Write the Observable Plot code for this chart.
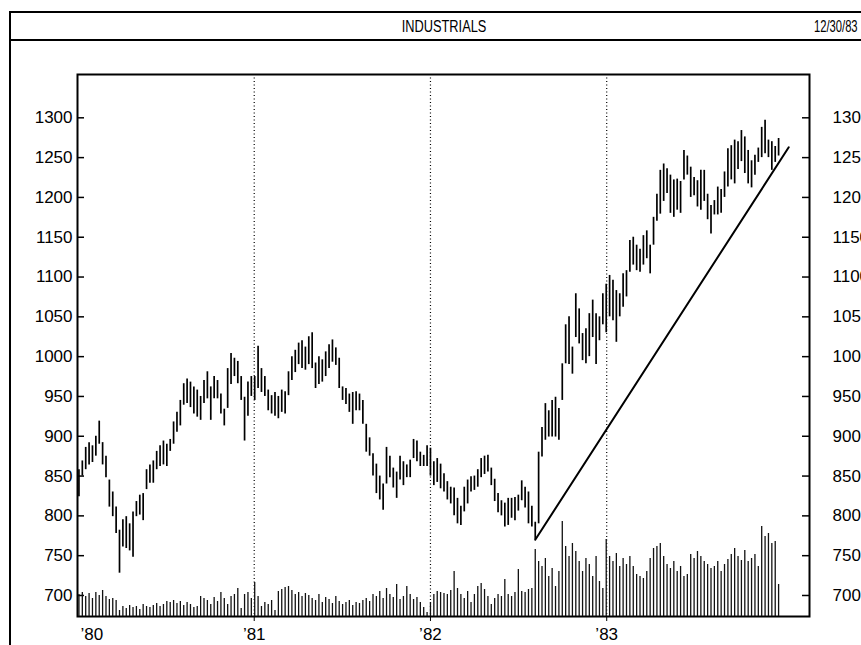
<!DOCTYPE html>
<html><head><meta charset="utf-8">
<script src="https://cdn.jsdelivr.net/npm/d3@7"></script>
<script src="https://cdn.jsdelivr.net/npm/@observablehq/plot@0.6"></script>
<style>
body{margin:0;background:#fff;}
#wrap{position:relative;width:861px;height:645px;overflow:hidden;background:#fff;font-family:"Liberation Sans",sans-serif;color:#000;}
#outer{position:absolute;left:9px;top:11px;width:900px;height:700px;border-top:2px solid #000;border-left:2px solid #000;}
#hdr{position:absolute;left:9px;top:39px;width:900px;border-top:2px solid #000;}
.hd{position:absolute;top:18px;font-size:16px;line-height:18px;white-space:nowrap;}
#title{left:444px;transform:translateX(-50%) scaleX(0.8);}
#date{left:814px;transform-origin:left center;transform:scaleX(0.7);}
.layer{position:absolute;left:0;top:0;}
</style></head>
<body><div id="wrap">
<div id="outer"></div><div id="hdr"></div>
<div class="hd" id="title">INDUSTRIALS</div>
<div class="hd" id="date">12/30/83</div>
<div class="layer" id="price"></div>
<div class="layer" id="volume"></div>
</div>
<script>
// weekly bars, first week ending 1980-01-04
const firstWeek = "1980-01-04";
const high1980 = [858,869,886,892,888,900,919,892,875,845,830,811,782,795,799,790,805,818,826,828,858,864,869,881,888,894,890,896,918,930,945,966,972,968,962,958,950,970,981,962,975,970,953,934,985,1004,998,994,975,949,968,975];
const low1980  = [824,850,858,864,867,875,890,864,848,811,799,778,728,761,759,756,748,799,801,794,833,841,841,858,862,864,862,881,890,905,913,939,941,936,928,924,920,941,947,920,947,947,928,913,935,965,975,966,945,894,925,950];
const high1981 = [975,1013,985,975,958,951,955,950,958,956,981,1000,1008,1017,1020,1012,1025,1030,992,1000,996,1006,1015,1021,1011,998,962,960,953,955,956,953,945,915,898,878,865,850,840,886,875,860,855,875,868,864,870,896,894,880,876,888];
const low1981  = [945,960,955,950,932,928,925,922,930,928,951,970,980,990,985,983,990,985,960,965,968,975,985,993,989,960,945,940,930,915,932,932,915,880,875,850,828,820,807,840,848,835,822,845,838,848,848,872,868,862,862,862];
const high1982 = [885,868,872,865,853,843,836,835,822,812,836,845,849,850,858,872,875,876,860,846,828,819,816,822,822,823,826,844,836,830,812,792,880,911,941,932,945,949,935,991,1040,1050,1012,1079,1060,1029,1035,1054,1071,1054,1050,1079];
const low1982  = [850,838,842,834,830,820,815,800,790,788,805,815,830,832,836,848,852,855,838,818,804,800,786,788,797,794,806,819,810,790,786,770,790,874,895,899,899,899,895,945,991,990,978,1024,1016,995,991,1000,1024,990,1020,1040];
const high1983 = [1091,1102,1096,1083,1079,1104,1108,1146,1150,1140,1135,1152,1158,1140,1175,1204,1234,1242,1236,1228,1222,1223,1220,1259,1252,1238,1225,1221,1234,1234,1204,1190,1196,1213,1210,1232,1261,1265,1272,1270,1284,1276,1259,1246,1253,1262,1288,1297,1272,1270,1264,1274];
const low1983  = [1030,1050,1045,1018,1050,1062,1075,1106,1115,1108,1106,1115,1123,1104,1140,1170,1179,1195,1205,1180,1175,1184,1180,1222,1228,1200,1202,1188,1184,1195,1172,1154,1178,1178,1180,1200,1213,1222,1217,1235,1245,1230,1217,1212,1228,1244,1250,1255,1250,1234,1244,1252];
// volume (relative units)
const vol1980 = [22,24,20,23,18,24,21,26,20,17,18,16,6,10,8,11,9,10,7,12,10,9,11,13,10,12,15,14,16,13,15,11,14,12,9,10,20,18,16,12,19,15,24,18,12,20,22,28,8,22,24,18];
const vol1981 = [34,20,10,14,12,16,6,25,27,29,30,26,22,24,20,23,21,18,16,22,14,19,17,13,20,15,12,14,16,11,14,13,16,18,15,22,20,25,18,28,22,19,32,17,20,30,22,17,19,14,9,4];
const vol1982 = [14,22,25,24,23,22,26,45,28,22,18,25,14,22,30,33,27,20,12,18,22,20,37,22,20,24,47,25,24,27,28,67,55,50,58,40,48,30,45,95,70,60,73,65,55,45,58,52,40,60,35,28];
const vol1983 = [77,60,55,63,50,58,52,60,50,42,40,38,45,58,68,70,73,60,52,48,55,45,50,40,42,62,58,65,60,55,52,48,50,55,45,52,57,62,68,60,56,66,55,58,62,50,90,80,83,73,75,32];
// trend line
const trendDates = ["1982-08-06","1984-01-13"];
const trendValues = [770,1263];
// axes
const yTicks = [700,750,800,850,900,950,1000,1050,1100,1150,1200,1250,1300];
const yearDates = ["1980-01-01","1981-01-01","1982-01-01","1983-01-01"];
const yearLabels = ["\u201980","\u201981","\u201982","\u201983"];
const xDomain = ["1980-01-01","1984-02-25"];

const highs = [...high1980,...high1981,...high1982,...high1983];
const lows = [...low1980,...low1981,...low1982,...low1983];
const vols = [...vol1980,...vol1981,...vol1982,...vol1983];
const t0 = new Date(firstWeek);
const rows = highs.map((h,i)=>({date:d3.utcDay.offset(t0,7*i),high:h,low:lows[i],vol:vols[i]}));
const trend = trendDates.map((d,i)=>({date:new Date(d),value:trendValues[i]}));
const years = yearDates.map((d,i)=>({date:new Date(d),label:yearLabels[i]}));

const W=861,H=645,mT=74,mL=77,mR=52,mB=29;
const fw = W-mL-mR;
const xs = {type:"utc",domain:xDomain.map(d=>new Date(d))};
const font = {fontFamily:"'Liberation Sans',sans-serif",fontSize:"17px",background:"transparent",overflow:"visible"};

const price = Plot.plot({
  width:W,height:H,marginTop:mT,marginLeft:mL,marginRight:mR,marginBottom:mB,
  x:xs,
  y:{domain:[673.6,1354.4]},
  style:font,
  marks:[
    Plot.ruleX(years.slice(1),{x:"date",stroke:"#000",strokeWidth:1.2,strokeDasharray:"1,2.5"}),
    Plot.ruleX(rows,{x:"date",y1:"low",y2:"high",stroke:"#000",strokeWidth:1.7}),
    Plot.line(trend,{x:"date",y:"value",stroke:"#000",strokeWidth:2}),
    Plot.tickY(yTicks,{y:d=>d,insetRight:fw-7,stroke:"#000",strokeWidth:1.5}),
    Plot.tickY(yTicks,{y:d=>d,insetLeft:fw-7,stroke:"#000",strokeWidth:1.5}),
    Plot.axisY(yTicks,{anchor:"left",tickSize:0,tickPadding:5,tickFormat:d=>String(d),fontSize:17}),
    Plot.axisY(yTicks,{anchor:"right",tickSize:0,tickPadding:23,tickFormat:d=>String(d),fontSize:17}),
    Plot.axisX(years.slice(1).map(d=>d.date),{anchor:"bottom",tickSize:5,tickPadding:6,tickFormat:d=>"\u2019"+String(d.getUTCFullYear()).slice(2),fontSize:17}),
    Plot.text(years.slice(0,1),{x:"date",text:"label",frameAnchor:"bottom",lineAnchor:"top",dy:11,dx:3,textAnchor:"start",fontSize:17}),
    Plot.frame({stroke:"#000",strokeWidth:2})
  ]
});
document.getElementById("price").append(price);

const volume = Plot.plot({
  width:W,height:H,marginTop:mT,marginLeft:mL,marginRight:mR,marginBottom:mB,
  x:{...xs,axis:null},
  y:{domain:[0,100],range:[H-mB,H-mB-100],axis:null},
  style:font,
  marks:[
    Plot.ruleX(rows,{x:"date",y1:0,y2:"vol",stroke:"#111",strokeWidth:1.3})
  ]
});
document.getElementById("volume").append(volume);
</script>
</body></html>
